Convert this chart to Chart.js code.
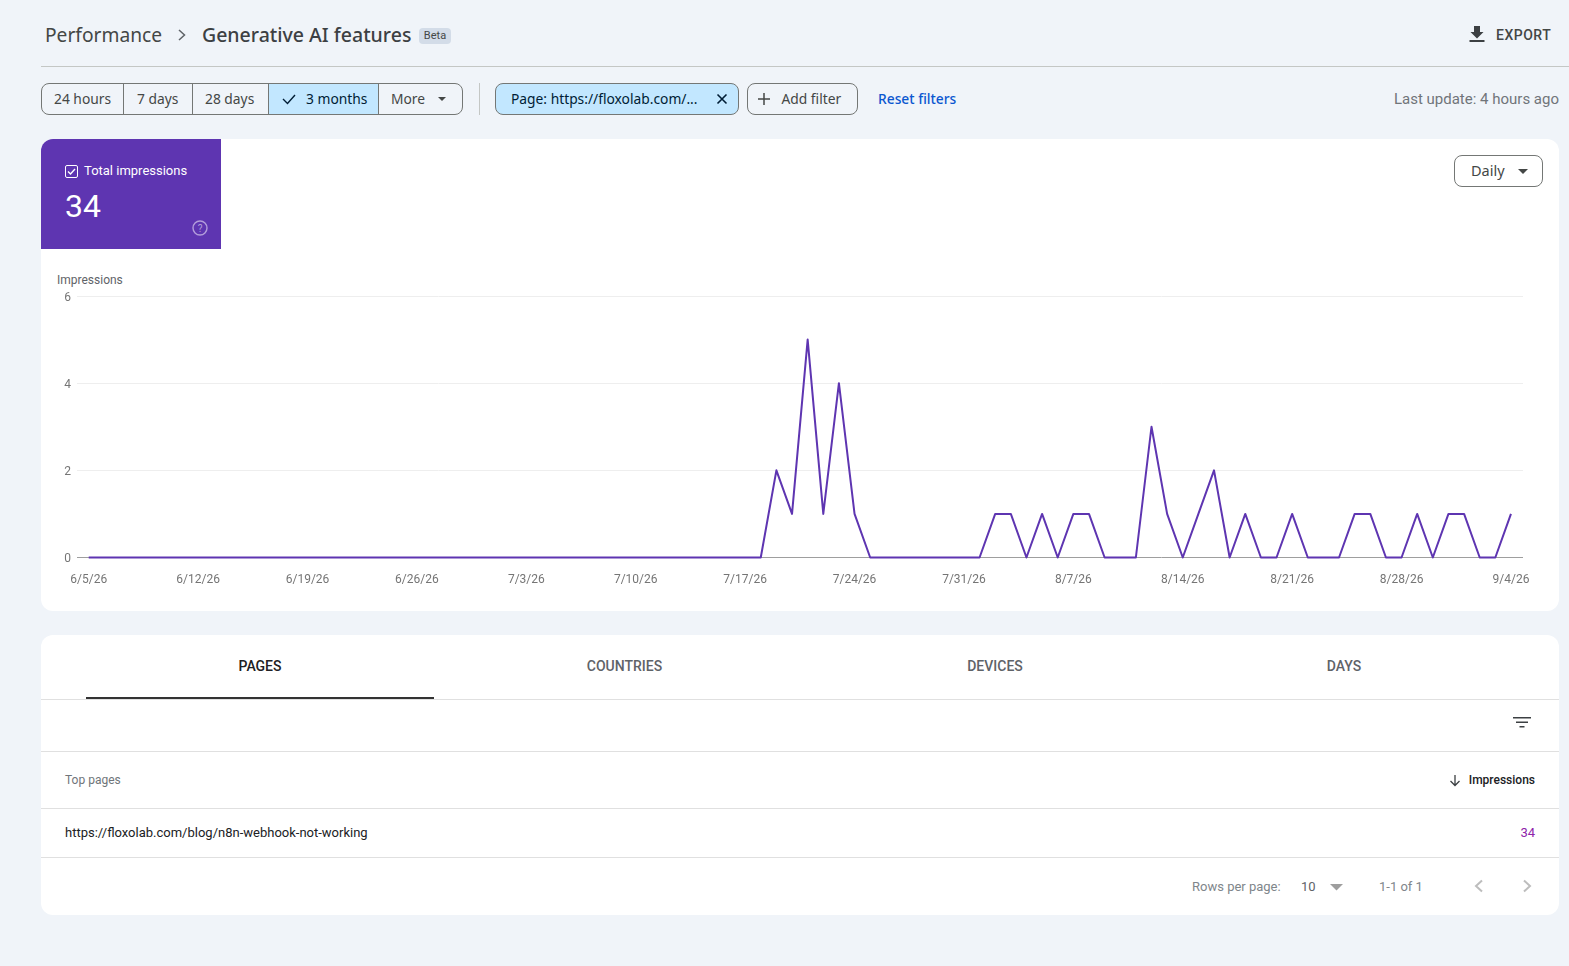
<!DOCTYPE html>
<html>
<head>
<meta charset="utf-8">
<title>Generative AI features</title>
<script src="https://cdn.jsdelivr.net/npm/chart.js@4"></script>
<style>
    html, body { margin: 0; height: 100%; overflow: hidden; background: #f0f4f9; font-family: Roboto, sans-serif; color: #444746; }
    .t { position: absolute; line-height: 20px; height: 20px; white-space: nowrap; }
    .gs { font-family: "Noto Sans", sans-serif; }
    .line { position: absolute; height: 1px; background: #e0e0e0; }
    .box { position: absolute; box-sizing: border-box; border: 1px solid #747775; border-radius: 8px; }
    svg { position: absolute; }
    #chartCard { position: absolute; left: 41px; top: 139px; width: 1518px; height: 472px; background: #fff; border-radius: 12px; }
    #tableCard { position: absolute; left: 41px; top: 635px; width: 1518px; height: 280px; background: #fff; border-radius: 12px; }
    #metric { position: absolute; left: 41px; top: 139px; width: 180px; height: 110px; background: #5e35b1; border-top-left-radius: 12px; }
    #chart { position: absolute; left: 41px; top: 262px; }
    .tab { position: absolute; top: 656px; line-height: 20px; font-size: 14px; font-weight: 500; color: #5f6368; transform: translateX(-50%); }
</style>
</head>
<body>

<!-- header -->
<div class="t gs" style="left:45px;top:25px;font-size:19.2px;color:#444746">Performance</div>
<svg style="left:175px;top:28px" width="14" height="14"><path d="M4 2l5.500 5L4 12" fill="none" stroke="#5f6368" stroke-width="1.5"/></svg>
<div class="t gs" style="left:202px;top:25px;font-size:19.5px;font-weight:500;color:#3c4043">Generative AI features</div>
<div class="t" style="left:419px;top:28px;width:32px;height:16px;line-height:16px;background:#d3dce8;border-radius:4px;font-size:11px;text-align:center">Beta</div>
<svg style="left:1468px;top:25px" width="18" height="18"><path d="M6 1h6v6h3.500L9 13.500 2.500 7H6zM1.500 15h15v2h-15z" fill="#3c4043"/></svg>
<div class="t" style="left:1496px;top:25px;font-size:14px;font-weight:500;letter-spacing:.5px">EXPORT</div>
<div class="line" style="left:41px;top:66px;width:1528px;background:#c4c7c5"></div>

<!-- filter bar -->
<div class="box" style="left:41px;top:83px;width:422px;height:32px"></div>
<div style="position:absolute;left:269px;top:84px;width:109px;height:30px;background:#c2e7ff"></div>
<div class="line" style="left:123px;top:84px;width:1px;height:30px;background:#747775"></div>
<div class="line" style="left:192px;top:84px;width:1px;height:30px;background:#747775"></div>
<div class="line" style="left:268px;top:84px;width:1px;height:30px;background:#747775"></div>
<div class="line" style="left:378px;top:84px;width:1px;height:30px;background:#747775"></div>
<div class="t gs" style="left:54px;top:89px;font-size:13.8px">24 hours</div>
<div class="t gs" style="left:137px;top:89px;font-size:13.8px">7 days</div>
<div class="t gs" style="left:205px;top:89px;font-size:13.8px">28 days</div>
<svg style="left:281px;top:92px" width="16" height="14"><path d="M2 7l4.500 4.500L14 3" fill="none" stroke="#001d35" stroke-width="1.4"/></svg>
<div class="t gs" style="left:306px;top:89px;font-size:13.8px;color:#001d35">3 months</div>
<div class="t gs" style="left:391px;top:89px;font-size:13.8px">More</div>
<svg style="left:437px;top:96px" width="10" height="6"><path d="M1 1h8L5 5z" fill="#444746"/></svg>
<div class="line" style="left:479px;top:83px;width:1px;height:32px;background:#c4c7c5"></div>
<div class="box" style="left:495px;top:83px;width:244px;height:32px;background:#c2e7ff"></div>
<div class="t gs" style="left:511px;top:89px;font-size:13.8px;color:#001d35">Page: https://floxolab.com/...</div>
<svg style="left:716px;top:93px" width="12" height="12"><path d="M1.500 1.500l9 9M10.500 1.500l-9 9" stroke="#001d35" stroke-width="1.6"/></svg>
<div class="box" style="left:747px;top:83px;width:111px;height:32px"></div>
<svg style="left:757px;top:92px" width="14" height="14"><path d="M7 1v12M1 7h12" stroke="#444746" stroke-width="1.5"/></svg>
<div class="t gs" style="left:781.5px;top:89px;font-size:13.8px">Add filter</div>
<div class="t gs" style="left:878px;top:89px;font-size:13.8px;font-weight:500;color:#0b57d0">Reset filters</div>
<div class="t" style="right:10px;top:89px;font-size:15px;color:#70757a">Last update: 4 hours ago</div>

<!-- chart card -->
<div id="chartCard"></div>
<div id="metric"></div>
<svg style="left:65px;top:165px" width="13" height="13"><rect x=".5" y=".5" width="12" height="12" rx="1.5" fill="none" stroke="#fff"/><path d="M3 6.500l2.500 2.500L10 4" fill="none" stroke="#fff" stroke-width="1.4"/></svg>
<div class="t" style="left:84px;top:161px;font-size:13px;color:#fff">Total impressions</div>
<div class="t" style="left:65px;top:196px;font-size:32px;color:#fff">34</div>
<svg style="left:192px;top:220px" width="16" height="16"><circle cx="8" cy="8" r="7" fill="none" stroke="#b39ddb" stroke-width="1.4"/><text x="8" y="11.500" font-size="10" font-family="Roboto" text-anchor="middle" fill="#b39ddb">?</text></svg>
<div class="box" style="left:1454px;top:155px;width:89px;height:32px"></div>
<div class="t gs" style="left:1471px;top:160px;font-size:14.5px">Daily</div>
<svg style="left:1518px;top:169px" width="10" height="6"><path d="M0 0h10L5 5z" fill="#444746"/></svg>
<div class="t" style="left:57px;top:270px;font-size:12px;color:#5f6368">Impressions</div>
<canvas id="chart" width="1518" height="340"></canvas>

<!-- table card -->
<div id="tableCard"></div>
<div class="tab" style="left:260px;color:#202124">PAGES</div>
<div class="tab" style="left:624.5px">COUNTRIES</div>
<div class="tab" style="left:995px">DEVICES</div>
<div class="tab" style="left:1344px">DAYS</div>
<div class="line" style="left:41px;top:699px;width:1518px"></div>
<div class="line" style="left:86px;top:697px;width:348px;height:2px;background:#333"></div>
<svg style="left:1513px;top:716px" width="18" height="13"><path d="M0 1h18v1.500H0zM3 5.500h12V7H3zM6.500 10h5v1.500h-5z" fill="#3c4043"/></svg>
<div class="line" style="left:41px;top:751px;width:1518px"></div>
<div class="t" style="left:65px;top:770px;font-size:12px;color:#70757a">Top pages</div>
<svg style="left:1449px;top:774px" width="12" height="13"><path d="M6 1v10.500M1.500 7L6 11.500 10.500 7" fill="none" stroke="#3c4043" stroke-width="1.3"/></svg>
<div class="t" style="right:34px;top:770px;font-size:12px;font-weight:500;color:#202124">Impressions</div>
<div class="line" style="left:41px;top:808px;width:1518px"></div>
<div class="t" style="left:65px;top:823px;font-size:13px;color:#202124">https://floxolab.com/blog/n8n-webhook-not-working</div>
<div class="t" style="right:34px;top:823px;font-size:13px;color:#8e24aa">34</div>
<div class="line" style="left:41px;top:857px;width:1518px"></div>
<div class="t" style="left:1192px;top:877px;font-size:13px;color:#80868b">Rows per page:</div>
<div class="t" style="left:1301px;top:877px;font-size:13px;color:#5f6368">10</div>
<svg style="left:1330px;top:884px" width="13" height="7"><path d="M0 0h13L6.500 6.500z" fill="#9e9e9e"/></svg>
<div class="t" style="left:1379px;top:877px;font-size:13px;color:#80868b">1-1 of 1</div>
<svg style="left:1473px;top:879px" width="12" height="14"><path d="M9 1.500L3 7l6 5.500" fill="none" stroke="#bdbdbd" stroke-width="2"/></svg>
<svg style="left:1521px;top:879px" width="12" height="14"><path d="M3 1.500L9 7l-6 5.500" fill="none" stroke="#bdbdbd" stroke-width="2"/></svg>

<script>
// 92 days, one label per day
const days = [
    '6/5/26', '6/6/26', '6/7/26', '6/8/26', '6/9/26', '6/10/26', '6/11/26', '6/12/26', '6/13/26', '6/14/26',
    '6/15/26', '6/16/26', '6/17/26', '6/18/26', '6/19/26', '6/20/26', '6/21/26', '6/22/26', '6/23/26', '6/24/26',
    '6/25/26', '6/26/26', '6/27/26', '6/28/26', '6/29/26', '6/30/26', '7/1/26', '7/2/26', '7/3/26', '7/4/26',
    '7/5/26', '7/6/26', '7/7/26', '7/8/26', '7/9/26', '7/10/26', '7/11/26', '7/12/26', '7/13/26', '7/14/26',
    '7/15/26', '7/16/26', '7/17/26', '7/18/26', '7/19/26', '7/20/26', '7/21/26', '7/22/26', '7/23/26', '7/24/26',
    '7/25/26', '7/26/26', '7/27/26', '7/28/26', '7/29/26', '7/30/26', '7/31/26', '8/1/26', '8/2/26', '8/3/26',
    '8/4/26', '8/5/26', '8/6/26', '8/7/26', '8/8/26', '8/9/26', '8/10/26', '8/11/26', '8/12/26', '8/13/26',
    '8/14/26', '8/15/26', '8/16/26', '8/17/26', '8/18/26', '8/19/26', '8/20/26', '8/21/26', '8/22/26', '8/23/26',
    '8/24/26', '8/25/26', '8/26/26', '8/27/26', '8/28/26', '8/29/26', '8/30/26', '8/31/26', '9/1/26', '9/2/26',
    '9/3/26', '9/4/26'
];

const impressions = [
    0, 0, 0, 0, 0, 0, 0, 0, 0, 0,
    0, 0, 0, 0, 0, 0, 0, 0, 0, 0,
    0, 0, 0, 0, 0, 0, 0, 0, 0, 0,
    0, 0, 0, 0, 0, 0, 0, 0, 0, 0,
    0, 0, 0, 0, 2, 1, 5, 1, 4, 1,
    0, 0, 0, 0, 0, 0, 0, 0, 1, 1,
    0, 1, 0, 1, 1, 0, 0, 0, 3, 1,
    0, 1, 2, 0, 1, 0, 0, 1, 0, 0,
    0, 1, 1, 0, 0, 1, 0, 1, 1, 0,
    0, 1
];

const xTickDays = ['6/5/26', '6/12/26', '6/19/26', '6/26/26', '7/3/26', '7/10/26', '7/17/26', '7/24/26', '7/31/26', '8/7/26', '8/14/26', '8/21/26', '8/28/26', '9/4/26'];
const yTicks = [0, 2, 4, 6];

new Chart(document.getElementById('chart'), {
    type: 'line',
    data: {
        datasets: [{
            label: 'Impressions',
            data: impressions.map((v, i) => ({ x: i, y: v })),
            borderColor: '#5e35b1',
            borderWidth: 2,
            borderJoinStyle: 'round',
            pointRadius: 0,
            tension: 0,
            fill: false,
            clip: false
        }]
    },
    options: {
        responsive: false,
        animation: false,
        devicePixelRatio: 1,
        layout: { padding: { top: 34, right: 36, bottom: 14.5, left: 0 } },
        plugins: { legend: { display: false }, tooltip: { enabled: false } },
        scales: {
            x: {
                type: 'linear',
                min: -0.75,
                max: 91.77,
                afterBuildTicks: scale => {
                    scale.ticks = xTickDays.map(d => ({ value: days.indexOf(d) }));
                },
                afterFit: scale => { scale.height = 30; },
                grid: { display: false },
                border: { display: false },
                ticks: {
                    autoSkip: false,
                    maxRotation: 0,
                    padding: 7,
                    color: '#757575',
                    font: { family: 'Roboto', size: 12 },
                    callback: value => days[value]
                }
            },
            y: {
                min: 0,
                max: 6,
                afterBuildTicks: scale => {
                    scale.ticks = yTicks.map(v => ({ value: v }));
                },
                afterFit: scale => { scale.width = 36; },
                grid: {
                    drawTicks: false,
                    color: ctx => ctx.tick.value === 0 ? '#9e9e9e' : '#eeeeee'
                },
                border: { display: false },
                ticks: {
                    padding: 6,
                    labelOffset: 1.5,
                    color: '#757575',
                    font: { family: 'Roboto', size: 12 }
                }
            }
        }
    }
});
</script>
</body>
</html>
